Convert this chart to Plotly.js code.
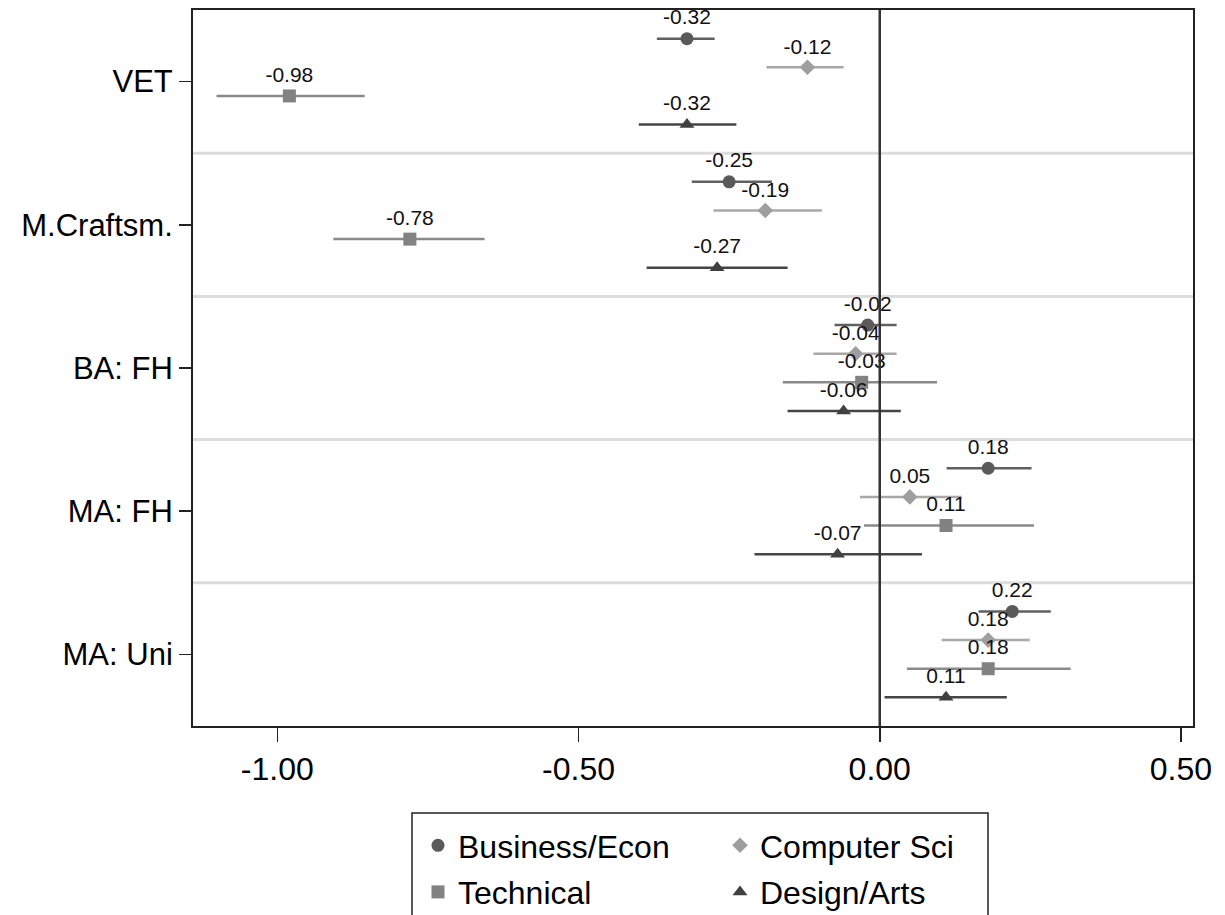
<!DOCTYPE html>
<html><head><meta charset="utf-8">
<script src="https://cdn.plot.ly/plotly-3.0.1.min.js"></script>
<style>html,body{margin:0;padding:0;background:#fff}#chart{width:1225px;height:915px}</style>
</head><body><div id="chart"></div>
<script>
// ---- data ----
const categories = ['VET', 'M.Craftsm.', 'BA: FH', 'MA: FH', 'MA: Uni'];
const seriesNames = ['Business/Econ', 'Computer Sci', 'Technical', 'Design/Arts'];

const businessEst = [-0.32, -0.25, -0.02, 0.18, 0.22];
const businessLo  = [-0.37, -0.312, -0.075, 0.111, 0.164];
const businessHi  = [-0.274, -0.179, 0.028, 0.252, 0.284];

const computerEst = [-0.12, -0.19, -0.04, 0.05, 0.18];
const computerLo  = [-0.188, -0.276, -0.110, -0.033, 0.103];
const computerHi  = [-0.060, -0.096, 0.028, 0.136, 0.249];

const technicalEst = [-0.98, -0.78, -0.03, 0.11, 0.18];
const technicalLo  = [-1.101, -0.907, -0.161, -0.026, 0.045];
const technicalHi  = [-0.855, -0.656, 0.095, 0.256, 0.317];

const designEst = [-0.32, -0.27, -0.06, -0.07, 0.11];
const designLo  = [-0.400, -0.387, -0.153, -0.208, 0.008];
const designHi  = [-0.238, -0.153, 0.035, 0.070, 0.211];

const xTickVals = [-1.0, -0.5, 0.0, 0.5];
const refLineX = 0;

// ---- styling ----
const FONT = 'Liberation Sans, Arial, Helvetica, sans-serif';
const series = [
  {name: seriesNames[0], est: businessEst, lo: businessLo, hi: businessHi, symbol: 'circle', size: 13, mcol: '#5a5a5a', lcol: '#606060', off: 0.3, legend: 'legend'},
  {name: seriesNames[1], est: computerEst, lo: computerLo, hi: computerHi, symbol: 'diamond', size: 12, mcol: '#9e9e9e', lcol: '#a8a8a8', off: 0.1, legend: 'legend2'},
  {name: seriesNames[2], est: technicalEst, lo: technicalLo, hi: technicalHi, symbol: 'square', size: 13, mcol: '#828282', lcol: '#8a8a8a', off: -0.1, legend: 'legend'},
  {name: seriesNames[3], est: designEst, lo: designLo, hi: designHi, symbol: 'triangle-up', size: 13, mcol: '#404040', lcol: '#454545', off: -0.3, legend: 'legend2'}
];

const nCat = categories.length;
const catPos = categories.map((c, i) => nCat - i);

const traces = [];
series.forEach((s, k) => {
  const y = catPos.map(p => p + s.off);
  traces.push({
    type: 'scatter', mode: 'markers', name: s.name,
    x: s.est, y: y,
    legend: s.legend, legendgroup: 'g' + k,
    marker: {symbol: s.symbol, size: s.size, color: s.mcol, line: {width: 0}},
    error_x: {type: 'data', symmetric: false,
      array: s.hi.map((h, i) => h - s.est[i]),
      arrayminus: s.lo.map((l, i) => s.est[i] - l),
      width: 0, thickness: 2.5, color: s.lcol},
    hoverinfo: 'skip'
  });
});
series.forEach((s, k) => {
  const y = catPos.map(p => p + s.off);
  traces.push({
    type: 'scatter', mode: 'markers+text', showlegend: false,
    x: s.est, y: y,
    text: s.est.map(v => v.toFixed(2)),
    textposition: 'top center',
    textfont: {family: FONT, size: 21, color: '#111'},
    marker: {symbol: s.symbol, size: s.size, color: 'rgba(0,0,0,0)'},
    hoverinfo: 'skip', cliponaxis: false
  });
});

const shapes = [];
for (let i = 0; i < nCat - 1; i++) {
  shapes.push({type: 'line', xref: 'paper', yref: 'y', x0: 0, x1: 1,
    y0: catPos[i] - 0.5, y1: catPos[i] - 0.5,
    line: {color: '#dcdcdc', width: 3}, layer: 'below'});
}
// reference line at zero
shapes.push({type: 'line', xref: 'x', yref: 'paper', x0: refLineX, x1: refLineX, y0: 0, y1: 1,
  line: {color: '#333', width: 2.5}, layer: 'above'});
// legend frame
shapes.push({type: 'rect', xref: 'paper', yref: 'paper',
  x0: 0.219, x1: 0.795, y0: -0.30, y1: -0.1215,
  line: {color: '#222', width: 1.5}, fillcolor: 'rgba(0,0,0,0)'});

const legendCommon = {
  orientation: 'v', xref: 'container', yref: 'container',
  xanchor: 'left', yanchor: 'top', bgcolor: 'rgba(0,0,0,0)', borderwidth: 0,
  font: {family: FONT, size: 32, color: '#000'},
  traceorder: 'grouped', tracegroupgap: 2, itemclick: false, itemdoubleclick: false
};

const layout = {
  width: 1225, height: 915,
  margin: {l: 193, r: 32, t: 10, b: 189, autoexpand: false},
  paper_bgcolor: '#fff', plot_bgcolor: '#fff',
  font: {family: FONT, color: '#000'},
  showlegend: true,
  legend: Object.assign({}, legendCommon, {x: 418 / 1225, y: 1 - 818 / 915}),
  legend2: Object.assign({}, legendCommon, {x: 720 / 1225, y: 1 - 818 / 915}),
  xaxis: {
    range: [-1.14, 0.52], tickmode: 'array', tickvals: xTickVals,
    ticktext: xTickVals.map(v => v.toFixed(2)),
    showgrid: false, zeroline: false,
    showline: true, linecolor: '#222', linewidth: 2, mirror: true,
    ticks: 'outside', ticklen: 14, tickwidth: 1.5, tickcolor: '#222',
    tickfont: {family: FONT, size: 32, color: '#000'}
  },
  yaxis: {
    range: [0.5, 5.5], tickmode: 'array', tickvals: catPos, ticktext: categories,
    showgrid: false, zeroline: false,
    showline: true, linecolor: '#222', linewidth: 2, mirror: true,
    ticks: 'outside', ticklen: 12, tickwidth: 1.5, tickcolor: '#222',
    tickfont: {family: FONT, size: 31, color: '#000'}
  },
  shapes: shapes
};

Plotly.newPlot('chart', traces, layout, {displayModeBar: false, staticPlot: true});
</script>
</body></html>
